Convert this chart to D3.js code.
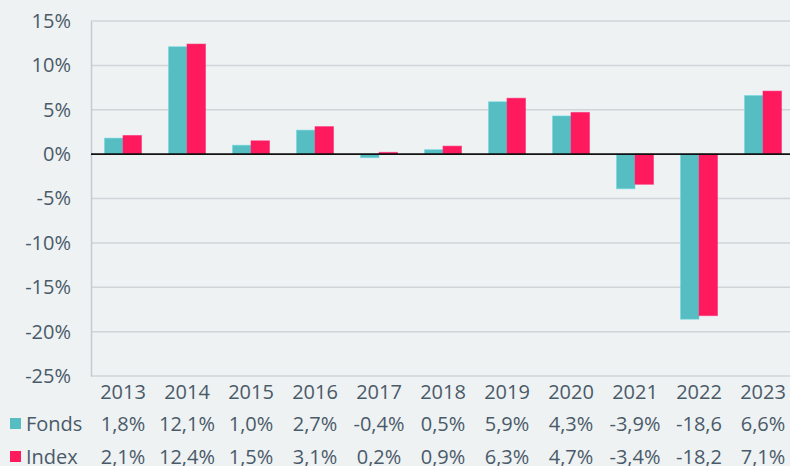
<!DOCTYPE html>
<html><head><meta charset="utf-8">
<script src="https://cdn.jsdelivr.net/npm/d3@7"></script>
<style>
html,body{margin:0;padding:0;background:#eef2f3;}
svg{display:block;}
text{font-family:"Open Sans",sans-serif;fill:#4a5a69;}
</style></head>
<body>
<script>
const years = ["2013","2014","2015","2016","2017","2018","2019","2020","2021","2022","2023"];
const fonds = [1.8,12.1,1.0,2.7,-0.4,0.5,5.9,4.3,-3.9,-18.6,6.6];
const index = [2.1,12.4,1.5,3.1,0.2,0.9,6.3,4.7,-3.4,-18.2,7.1];
const fondsLabels = ["1,8%","12,1%","1,0%","2,7%","-0,4%","0,5%","5,9%","4,3%","-3,9%","-18,6","6,6%"];
const indexLabels = ["2,1%","12,4%","1,5%","3,1%","0,2%","0,9%","6,3%","4,7%","-3,4%","-18,2","7,1%"];
const yTicks = [15,10,5,0,-5,-10,-15,-20,-25];
const seriesNames = ["Fonds","Index"];
const colors = ["#56bdc3","#ff1a5e"];

const W=790,H=466,FS="20px";
const svg=d3.select("body").append("svg").attr("width",W).attr("height",H);
svg.append("rect").attr("width",W).attr("height",H).attr("fill","#eef2f3");

const x=d3.scaleBand().domain(years).range([91,795]);
const y=d3.scaleLinear().domain([-25,15]).range([376,21]);
const inner=d3.scaleBand().domain(seriesNames).range([-18.5,18.5]);

svg.append("g").selectAll("line").data(yTicks.filter(d=>d!==0)).join("line")
  .attr("x1",91).attr("x2",W).attr("y1",d=>y(d)).attr("y2",d=>y(d))
  .attr("stroke","#cfd4d7").attr("stroke-width",1.5);

const yAxis=d3.axisLeft(y).tickValues(yTicks).tickFormat(d=>d+"%").tickSize(0).tickPadding(20);
const ga=svg.append("g").attr("transform","translate(91,0)").call(yAxis);
ga.select(".domain").attr("stroke","#c5cbce").attr("stroke-width",1.5);
ga.selectAll("text").attr("font-size",FS).attr("font-family","Open Sans, sans-serif").attr("fill","#4a5a69").attr("x",-20);

const series=[fonds,index];
series.forEach((vals,si)=>{
  svg.append("g").selectAll("rect").data(vals).join("rect")
    .attr("x",(d,i)=>x(years[i])+x.bandwidth()/2+inner(seriesNames[si]))
    .attr("width",inner.bandwidth())
    .attr("y",d=>y(Math.max(0,d)))
    .attr("height",d=>Math.abs(y(d)-y(0)))
    .attr("fill",colors[si])
    .attr("stroke",d3.color(colors[si]).brighter(0.4))
    .attr("stroke-opacity",0.5).attr("stroke-width",1);
});

svg.append("line").attr("x1",91).attr("x2",W).attr("y1",y(0)).attr("y2",y(0))
  .attr("stroke","#111").attr("stroke-width",1.6);

svg.append("g").selectAll("text").data(years).join("text")
  .attr("x",d=>x(d)+x.bandwidth()/2).attr("y",399)
  .attr("text-anchor","middle").attr("font-size",FS).text(d=>d);

const rows=[{name:"Fonds",labels:fondsLabels,yb:431,c:colors[0]},{name:"Index",labels:indexLabels,yb:464,c:colors[1]}];
rows.forEach(r=>{
  svg.append("rect").attr("x",10).attr("y",r.yb-13).attr("width",11).attr("height",11).attr("fill",r.c);
  svg.append("text").attr("x",26).attr("y",r.yb).attr("font-size",FS).text(r.name);
  svg.append("g").selectAll("text").data(r.labels).join("text")
    .attr("x",(d,i)=>x(years[i])+x.bandwidth()/2).attr("y",r.yb)
    .attr("text-anchor","middle").attr("font-size",FS).text(d=>d);
});
</script>
</body></html>
